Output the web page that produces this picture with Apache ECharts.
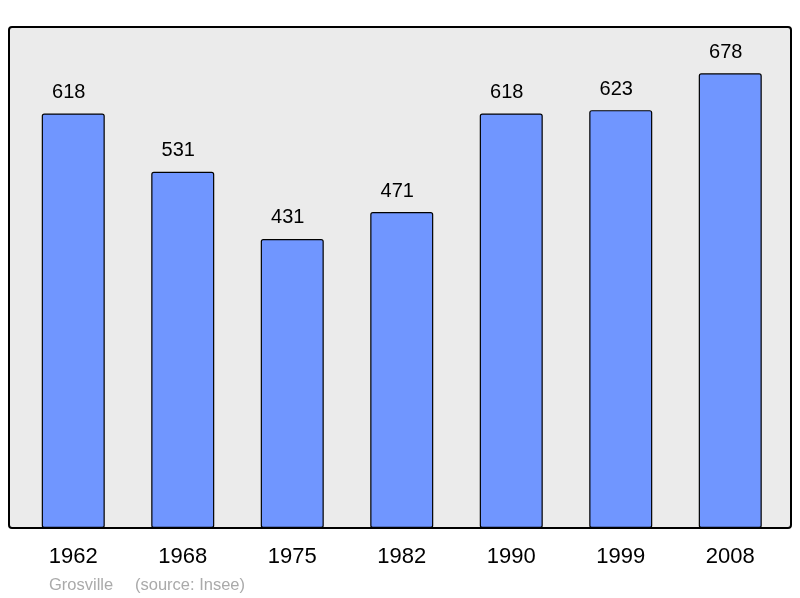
<!DOCTYPE html>
<html>
<head>
<meta charset="utf-8">
<script src="https://cdn.jsdelivr.net/npm/echarts@6/dist/echarts.min.js"></script>
<style>
  html, body { margin: 0; padding: 0; background: #fff; }
  #chart { width: 800px; height: 598px; }
</style>
</head>
<body>
<div id="chart"></div>
<script>
  // population data
  var years = ['1962', '1968', '1975', '1982', '1990', '1999', '2008'];
  var population = [618, 531, 431, 471, 618, 623, 678];

  var chart = echarts.init(document.getElementById('chart'));
  var font = '"Liberation Sans", Arial, sans-serif';

  var option = {
    animation: false,
    backgroundColor: '#ffffff',
    graphic: [
      {
        type: 'rect',
        z: -10,
        shape: { x: 9, y: 27, width: 782, height: 501, r: 3 },
        style: { fill: '#ebebeb', stroke: '#000', lineWidth: 2 }
      },
      {
        type: 'text',
        left: 49,
        top: 577,
        style: { text: 'Grosville', fill: '#aaaaaa', font: '16.5px ' + font }
      },
      {
        type: 'text',
        left: 135,
        top: 577,
        style: { text: '(source: Insee)', fill: '#aaaaaa', font: '16.5px ' + font }
      }
    ],
    grid: { left: 18.5, right: 15, top: 27, bottom: 70 },
    xAxis: {
      type: 'category',
      data: years,
      axisLine: { show: false },
      axisTick: { show: false },
      axisLabel: { color: '#000', fontSize: 22, fontFamily: font, margin: 18 }
    },
    yAxis: {
      type: 'value',
      min: 0,
      max: 747,
      show: false,
      splitLine: { show: false }
    },
    series: [{
      type: 'bar',
      data: population,
      barWidth: 63,
      itemStyle: { color: '#7096ff', borderColor: '#000', borderWidth: 1.2, borderRadius: 2 },
      label: {
        show: true,
        position: 'top',
        distance: 11,
        offset: [-4.5, 0],
        color: '#000',
        fontSize: 20,
        fontFamily: font
      }
    }]
  };
  chart.setOption(option);
</script>
</body>
</html>
